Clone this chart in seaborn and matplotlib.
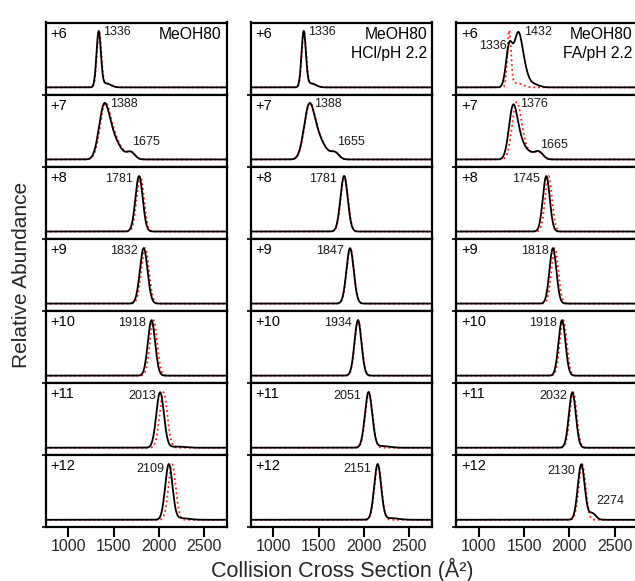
import numpy as np
import pandas as pd
import matplotlib
matplotlib.use("Agg")
import matplotlib.pyplot as plt
import seaborn as sns

# ---------------- data ----------------
charges = ["+6", "+7", "+8", "+9", "+10", "+11", "+12"]
col_titles = [["MeOH80"], ["MeOH80", "HCl/pH 2.2"], ["MeOH80", "FA/pH 2.2"]]
xticks = [1000, 1500, 2000, 2500]

# peak components per charge state: (centre CCS, width, relative height)
meoh_black = [
    [(1336, 24, 1.0), (1420, 50, 0.07)],
    [(1390, 55, 0.85), (1470, 60, 0.35), (1560, 60, 0.15), (1690, 45, 0.13)],
    [(1781, 40, 1.0)],
    [(1832, 42, 1.0)],
    [(1918, 40, 1.0)],
    [(2013, 42, 1.0), (2200, 80, 0.02)],
    [(2109, 40, 1.0), (2250, 80, 0.03)],
]
meoh_red = [
    [(1340, 24, 1.0), (1420, 50, 0.07)],
    [(1400, 55, 0.85), (1480, 60, 0.35), (1565, 60, 0.15), (1690, 45, 0.12)],
    [(1795, 40, 1.0)],
    [(1848, 42, 1.0)],
    [(1940, 40, 1.0)],
    [(2050, 42, 1.0)],
    [(2145, 40, 1.0)],
]
hcl_black = [
    [(1336, 24, 1.0), (1420, 50, 0.07)],
    [(1390, 55, 0.85), (1470, 60, 0.35), (1560, 60, 0.15), (1680, 45, 0.12)],
    [(1781, 40, 1.0)],
    [(1847, 40, 1.0)],
    [(1934, 38, 1.0)],
    [(2051, 40, 1.0), (2200, 80, 0.03)],
    [(2151, 38, 1.0), (2300, 80, 0.03)],
]
hcl_red = [
    [(1339, 24, 1.0), (1420, 50, 0.07)],
    [(1393, 55, 0.85), (1473, 60, 0.35), (1563, 60, 0.15), (1683, 45, 0.12)],
    [(1784, 40, 1.0)],
    [(1850, 40, 1.0)],
    [(1937, 38, 1.0)],
    [(2055, 40, 1.0)],
    [(2155, 38, 1.0)],
]
fa_black = [
    [(1336, 35, 0.72), (1432, 45, 0.9), (1500, 45, 0.25), (1600, 60, 0.06)],
    [(1376, 45, 0.88), (1450, 50, 0.3), (1550, 60, 0.12), (1665, 45, 0.13)],
    [(1745, 38, 1.0)],
    [(1818, 38, 1.0)],
    [(1918, 38, 1.0)],
    [(2032, 38, 1.0)],
    [(2130, 38, 1.0), (2250, 40, 0.12)],
]
fa_red = [
    [(1336, 20, 1.0), (1420, 60, 0.08)],
    [(1405, 45, 0.8), (1460, 45, 0.4), (1560, 60, 0.12), (1665, 45, 0.11)],
    [(1770, 38, 1.0)],
    [(1840, 38, 1.0)],
    [(1932, 38, 1.0)],
    [(2042, 38, 1.0)],
    [(2140, 38, 1.0)],
]

# peak labels: (text, anchor CCS, anchor height, alignment)
meoh_labels = [
    [("1336", 1383, 1.0, "left")],
    [("1388", 1456, 1.0, "left"), ("1675", 1700, 0.31, "left")],
    [("1781", 1714, 0.95, "right")],
    [("1832", 1765, 0.95, "right")],
    [("1918", 1861, 0.95, "right")],
    [("2013", 1971, 0.93, "right")],
    [("2109", 2063, 0.92, "right")],
]
hcl_labels = [
    [("1336", 1386, 1.0, "left")],
    [("1388", 1448, 1.0, "left"), ("1655", 1706, 0.31, "left")],
    [("1781", 1706, 0.95, "right")],
    [("1847", 1779, 0.95, "right")],
    [("1934", 1872, 0.95, "right")],
    [("2051", 1971, 0.93, "right")],
    [("2151", 2082, 0.92, "right")],
]
fa_labels = [
    [("1336", 1305, 0.74, "right"), ("1432", 1497, 1.0, "left")],
    [("1376", 1453, 1.0, "left"), ("1665", 1673, 0.26, "left")],
    [("1745", 1673, 0.95, "right")],
    [("1818", 1769, 0.95, "right")],
    [("1918", 1857, 0.95, "right")],
    [("2032", 1979, 0.93, "right")],
    [("2130", 2060, 0.88, "right"), ("2274", 2292, 0.33, "left")],
]

columns = [
    (meoh_black, meoh_red, meoh_labels),
    (hcl_black, hcl_red, hcl_labels),
    (fa_black, fa_red, fa_labels),
]

# ---------------- drawing ----------------
sns.set_theme(style="white")
plt.rcParams["font.family"] = ["Liberation Sans", "DejaVu Sans"]

W, H = 635, 581
fig = plt.figure(figsize=(W / 100, H / 100), dpi=100)

ccs = np.linspace(750, 2750, 1001)


def profile(comps):
    y = np.zeros_like(ccs)
    for c, s, a in comps:
        y += a * np.exp(-0.5 * ((ccs - c) / s) ** 2)
    return y


col_left = [45.5, 250.5, 456.0]
col_w = 181.5
top0 = 22.5
row_h = (527.0 - 22.5) / 7
YLO, YHI = -0.13, 1.17

for ci, (blk, red, labs) in enumerate(columns):
    for ri in range(7):
        top = top0 + ri * row_h
        ax = fig.add_axes([col_left[ci] / W, 1 - (top + row_h) / H, col_w / W, row_h / H])
        df = pd.DataFrame({"ccs": ccs, "black": profile(blk[ri]), "red": profile(red[ri])})
        sns.lineplot(data=df, x="ccs", y="red", ax=ax, color="#ff1a1a",
                     linestyle=":", linewidth=1.3, zorder=2)
        sns.lineplot(data=df, x="ccs", y="black", ax=ax, color="black",
                     linewidth=1.3, zorder=3)
        ax.set_xlim(750, 2750)
        ax.set_ylim(YLO, YHI)
        ax.set_xlabel("")
        ax.set_ylabel("")
        for sp in ax.spines.values():
            sp.set_linewidth(1.6)
            sp.set_color("black")
        ax.set_yticks([YLO])
        ax.set_yticklabels([])
        ax.tick_params(axis="y", direction="out", length=3, width=1.2, left=True, color="black")
        if ri == 6:
            ax.set_xticks(xticks)
            ax.set_xticklabels([str(t) for t in xticks], fontsize=11.5)
            ax.tick_params(axis="x", direction="out", length=7, width=1.5,
                           bottom=True, color="black", pad=1.5)
        else:
            ax.set_xticks([])
        ax.text(5 / col_w, 1 - 11.5 / row_h, charges[ri], transform=ax.transAxes,
                ha="left", va="center", fontsize=10.5, color="black")
        for txt, lx, ly, ha in labs[ri]:
            ax.text(lx, ly, txt, ha=ha, va="center", fontsize=9, color="#1a1a1a", zorder=5)
        if ri == 0:
            for li, line in enumerate(col_titles[ci]):
                ax.text(1 - 5 / col_w, 1 - (11.8 + 19 * li) / row_h, line,
                        transform=ax.transAxes, ha="right", va="center",
                        fontsize=11.3, color="black")

fig.text(22 / W, 1 - 275 / H, "Relative Abundance", rotation=90,
         ha="center", va="center", fontsize=15)
fig.text(342 / W, 1 - 570 / H, "Collision Cross Section (Å²)",
         ha="center", va="center", fontsize=15.5)

fig.savefig("out.png", dpi=100)
